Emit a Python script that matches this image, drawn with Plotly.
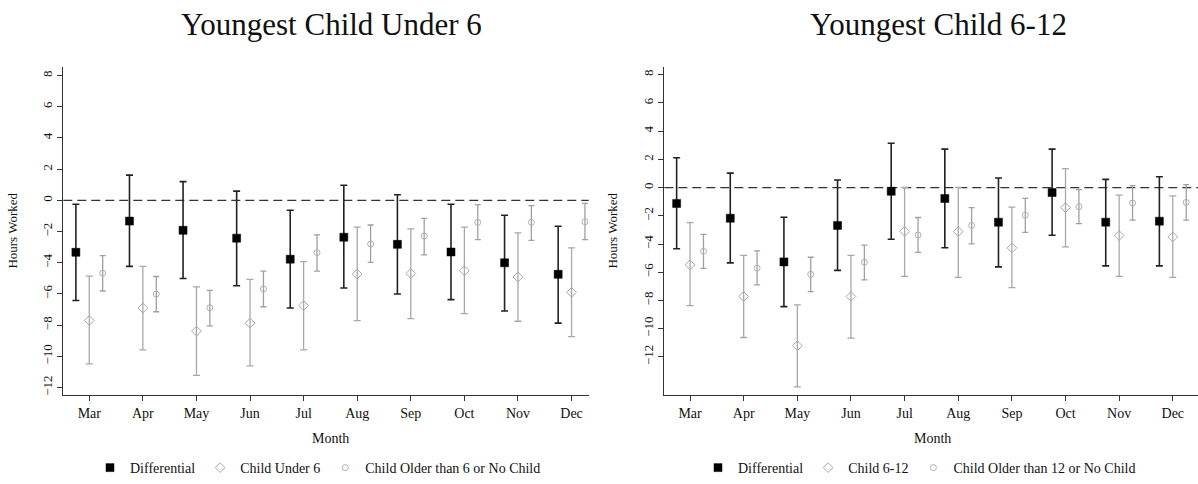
import plotly.graph_objects as go

months = ["Mar", "Apr", "May", "Jun", "Jul", "Aug", "Sep", "Oct", "Nov", "Dec"]
month_pos = [1, 2, 3, 4, 5, 6, 7, 8, 9, 10]
y_ticks = [8, 6, 4, 2, 0, -2, -4, -6, -8, -10, -12]

# Panel 1: youngest child under 6
u6_diff = [-3.33, -1.33, -1.92, -2.42, -3.77, -2.36, -2.82, -3.31, -4.00, -4.74]
u6_diff_lo = [-6.42, -4.23, -5.01, -5.47, -6.90, -5.62, -6.00, -6.36, -7.09, -7.87]
u6_diff_hi = [-0.25, 1.62, 1.20, 0.59, -0.63, 0.97, 0.36, -0.25, -0.95, -1.66]
u6_child = [-7.70, -6.90, -8.38, -7.87, -6.74, -4.72, -4.69, -4.51, -4.91, -5.89]
u6_child_lo = [-10.48, -9.58, -11.22, -10.61, -9.58, -7.71, -7.58, -7.26, -7.75, -8.74]
u6_child_hi = [-4.86, -4.23, -5.54, -5.07, -3.92, -1.71, -1.83, -1.71, -2.08, -3.05]
u6_other = [-4.67, -6.00, -6.88, -5.68, -3.35, -2.80, -2.29, -1.41, -1.41, -1.37]
u6_other_lo = [-5.81, -7.14, -8.04, -6.82, -4.53, -3.98, -3.49, -2.51, -2.57, -2.51]
u6_other_hi = [-3.54, -4.88, -5.77, -4.53, -2.21, -1.58, -1.16, -0.27, -0.34, -0.19]

# Panel 2: youngest child 6-12
c612_diff = [-1.12, -2.17, -5.27, -2.68, -0.26, -0.77, -2.45, -0.35, -2.45, -2.38]
c612_diff_lo = [-4.34, -5.34, -8.44, -5.87, -3.66, -4.27, -5.62, -3.38, -5.55, -5.55]
c612_diff_hi = [2.12, 1.03, -2.10, 0.54, 3.15, 2.73, 0.68, 2.73, 0.58, 0.77]
c612_child = [-5.48, -7.72, -11.21, -7.72, -3.10, -3.12, -4.27, -1.42, -3.40, -3.50]
c612_child_lo = [-8.37, -10.63, -14.13, -10.68, -6.29, -6.36, -7.09, -4.20, -6.29, -6.36]
c612_child_hi = [-2.49, -4.80, -8.32, -4.80, 0.02, 0.02, -1.38, 1.35, -0.54, -0.58]
c612_other = [-4.52, -5.71, -6.15, -5.29, -3.36, -2.68, -1.96, -1.35, -1.10, -1.05]
c612_other_lo = [-5.73, -6.90, -7.37, -6.55, -4.59, -3.99, -3.17, -2.56, -2.31, -2.31]
c612_other_hi = [-3.31, -4.48, -4.94, -4.08, -2.12, -1.42, -0.77, -0.14, 0.14, 0.21]

FONT = "Liberation Serif, Times New Roman, serif"
W, H = 1198, 484

fig = go.Figure()


def add_series(xref, yref, legend, name, offset, pt, lo, hi, style):
    fig.add_trace(go.Scatter(
        x=[m + offset for m in month_pos],
        y=pt,
        mode="markers",
        name=name,
        xaxis=xref,
        yaxis=yref,
        legend=legend,
        marker=dict(symbol=style["symbol"], size=style["size"],
                    color=style["fill"],
                    line=dict(color=style["edge"], width=style["edge_w"])),
        error_y=dict(type="data", symmetric=False,
                     array=[h - p for h, p in zip(hi, pt)],
                     arrayminus=[p - l for p, l in zip(pt, lo)],
                     color=style["bar"], thickness=style["bar_w"],
                     width=style["cap"]),
    ))


diff_style = dict(symbol="square", size=8, fill="#000000", edge="#000000",
                  edge_w=0.5, bar="#222222", bar_w=1.6, cap=3.5)
child_style = dict(symbol="diamond-open", size=7.5, fill="#a8a8a8", edge="#a8a8a8",
                   edge_w=1, bar="#a8a8a8", bar_w=1.3, cap=3.5)
other_style = dict(symbol="circle-open", size=6, fill="#b0b0b0", edge="#b0b0b0",
                   edge_w=1, bar="#a0a0a0", bar_w=1.3, cap=3)

add_series("x", "y", "legend", "Differential", -0.25,
           u6_diff, u6_diff_lo, u6_diff_hi, diff_style)
add_series("x", "y", "legend", "Child Under 6", 0.0,
           u6_child, u6_child_lo, u6_child_hi, child_style)
add_series("x", "y", "legend", "Child Older than 6 or No Child", 0.25,
           u6_other, u6_other_lo, u6_other_hi, other_style)

add_series("x2", "y2", "legend2", "Differential", -0.25,
           c612_diff, c612_diff_lo, c612_diff_hi, diff_style)
add_series("x2", "y2", "legend2", "Child 6-12", 0.0,
           c612_child, c612_child_lo, c612_child_hi, child_style)
add_series("x2", "y2", "legend2", "Child Older than 12 or No Child", 0.25,
           c612_other, c612_other_lo, c612_other_hi, other_style)

axis_common = dict(showgrid=False, zeroline=False, showline=True,
                   linecolor="#333333", linewidth=1.2, ticks="outside",
                   ticklen=5, tickcolor="#333333", tickwidth=1)
x_font = dict(family=FONT, size=14, color="#111111")
y_font = dict(family=FONT, size=13, color="#111111")

x_dom1 = [63.3 / W, 588.7 / W]
x_dom2 = [664.3 / W, 1.0]
y_dom = [1 - 400.7 / H, 1 - 68.3 / H]

legend_common = dict(orientation="h", y=1 - 475 / H, xanchor="left",
                     yanchor="middle", font=dict(family=FONT, size=14),
                     itemwidth=30, tracegroupgap=0, bgcolor="rgba(0,0,0,0)")

fig.update_layout(
    width=W, height=H,
    margin=dict(l=0, r=0, t=0, b=0),
    paper_bgcolor="white", plot_bgcolor="white",
    font=dict(family=FONT, size=13, color="#111111"),
    xaxis=dict(domain=x_dom1, range=[0.515, 10.32], tickvals=month_pos,
               ticktext=months, anchor="y", tickfont=x_font, **axis_common),
    yaxis=dict(domain=y_dom, range=[-12.47, 8.53], tickvals=y_ticks,
               tickangle=-90, anchor="x", tickfont=y_font, **axis_common),
    xaxis2=dict(domain=x_dom2, range=[0.52, 10.47], tickvals=month_pos,
                ticktext=months, anchor="y2", tickfont=x_font, **axis_common),
    yaxis2=dict(domain=y_dom, range=[-14.7, 8.53], tickvals=y_ticks,
                tickangle=-90, anchor="x2", tickfont=y_font, **axis_common),
    legend=dict(x=90 / W, **legend_common),
    legend2=dict(x=698 / W, **legend_common),
)

# dashed reference line at zero in each panel
for xr, yr in (("x", "y"), ("x2", "y2")):
    fig.add_shape(type="line", xref=f"{xr} domain", yref=yr, x0=0, x1=1,
                  y0=0, y1=0, line=dict(color="#333333", width=1.2,
                                        dash="9px,5px"), layer="below")

annotations = [
    dict(text="Youngest Child Under 6", x=331 / W, y=1 - 25 / H, size=31),
    dict(text="Youngest Child 6-12", x=938 / W, y=1 - 25 / H, size=31),
    dict(text="Month", x=330 / W, y=1 - 445 / H, size=14),
    dict(text="Month", x=932 / W, y=1 - 445 / H, size=14),
]
for a in annotations:
    fig.add_annotation(text=a["text"], x=a["x"], y=a["y"], xref="paper",
                       yref="paper", xanchor="center", yanchor="middle",
                       showarrow=False,
                       font=dict(family=FONT, size=a["size"], color="#111111"))

for xpos in (13, 613):
    fig.add_annotation(text="Hours Worked", x=xpos / W, y=1 - 234 / H,
                       xref="paper", yref="paper", xanchor="center",
                       yanchor="middle", textangle=-90, showarrow=False,
                       font=dict(family=FONT, size=13, color="#111111"))

fig.write_html("out.html")
